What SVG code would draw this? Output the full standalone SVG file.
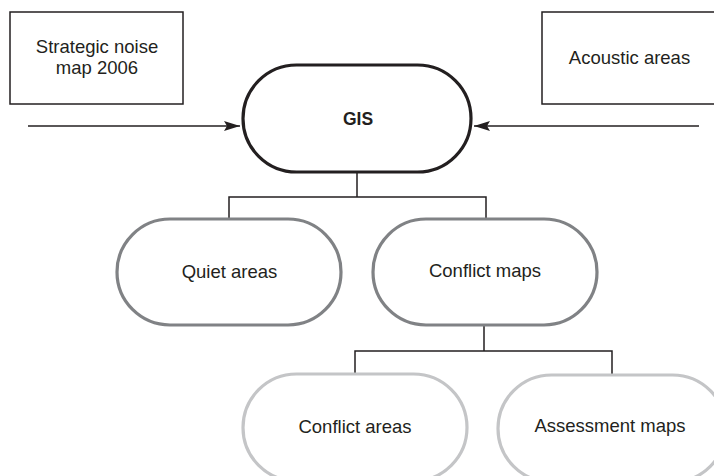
<svg xmlns="http://www.w3.org/2000/svg" width="714" height="476" viewBox="0 0 714 476">
<style>
text { font-family: "Liberation Sans", Arial, sans-serif; font-size: 18.5px; fill: #231f20; text-anchor: middle; }
.box { fill: #fff; stroke: #231f20; stroke-width: 1.5; }
.pill0 { fill: #fff; stroke: #231f20; stroke-width: 3.2; }
.pill1 { fill: #fff; stroke: #808285; stroke-width: 3.2; }
.pill2 { fill: #fff; stroke: #c4c5c7; stroke-width: 3.2; }
.conn { fill: none; stroke: #231f20; stroke-width: 1.5; }
</style>
<defs>
<marker id="ah" viewBox="0 0 16 10" refX="16" refY="5" markerWidth="16" markerHeight="10" markerUnits="userSpaceOnUse" orient="auto">
<path d="M0,0 L16,5 L0,10 L3,5 Z" fill="#231f20"/>
</marker>
</defs>
<rect width="714" height="476" fill="#fff"/>
<g id="connectors">
<line class="conn" x1="28" y1="126" x2="240" y2="126" marker-end="url(#ah)"/>
<line class="conn" x1="699" y1="126" x2="474" y2="126" marker-end="url(#ah)"/>
<path class="conn" d="M357,172 V197 M229,197 H486 M229,196.25 V219 M486,196.25 V219"/>
<path class="conn" d="M484,325 V351 M355,351 H612 M355,350.25 V374 M612,350.25 V374"/>
</g>
<g id="strategic">
<rect class="box" x="10" y="12" width="173" height="92"/>
<text x="97" y="53">Strategic noise</text>
<text x="97" y="74">map 2006</text>
</g>
<g id="acoustic">
<rect class="box" x="542" y="12" width="176" height="92"/>
<text x="629.5" y="64">Acoustic areas</text>
</g>
<g id="gis">
<rect class="pill0" x="243" y="65" width="228" height="107" rx="53.5"/>
<text x="358" y="125" style="font-weight:bold;font-size:17.5px">GIS</text>
</g>
<g id="quiet">
<rect class="pill1" x="117" y="219" width="224" height="106" rx="53"/>
<text x="229.5" y="278">Quiet areas</text>
</g>
<g id="conflictmaps">
<rect class="pill1" x="373" y="219" width="224" height="106" rx="53"/>
<text x="485" y="277">Conflict maps</text>
</g>
<g id="conflictareas">
<rect class="pill2" x="243" y="374" width="224" height="107" rx="53.5"/>
<text x="355" y="433">Conflict areas</text>
</g>
<g id="assessment">
<rect class="pill2" x="498" y="375" width="228" height="107" rx="53.5"/>
<text x="610" y="432">Assessment maps</text>
</g>
</svg>
